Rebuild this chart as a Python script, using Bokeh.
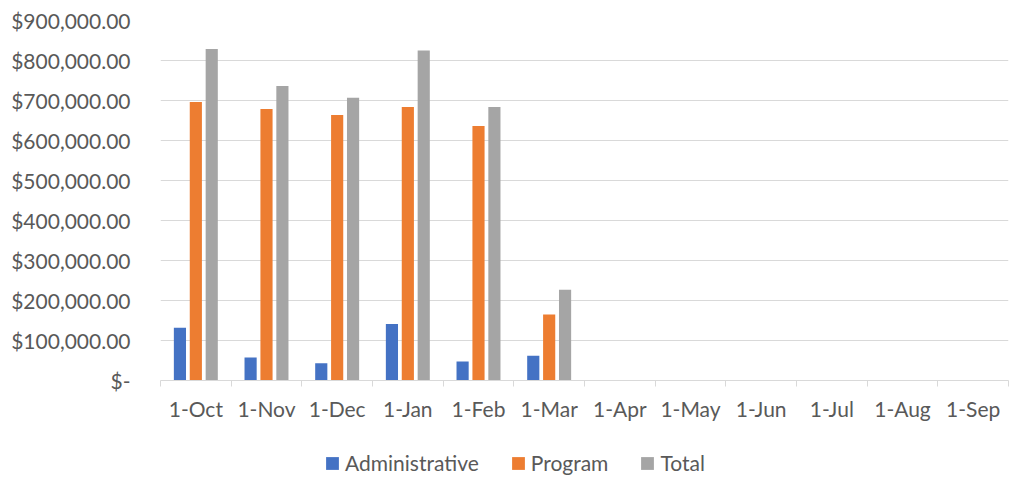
import numpy as np
from bokeh.plotting import figure
from bokeh.layouts import column
from bokeh.models import ColumnDataSource, FixedTicker, Range1d, Legend, LegendItem
from bokeh.embed import file_html
from bokeh.resources import INLINE

months = ["1-Oct", "1-Nov", "1-Dec", "1-Jan", "1-Feb", "1-Mar",
          "1-Apr", "1-May", "1-Jun", "1-Jul", "1-Aug", "1-Sep"]
administrative = [132000, 57500, 43000, 141000, 47500, 62000,
                  None, None, None, None, None, None]
program = [696500, 679000, 664000, 684000, 636000, 165000,
           None, None, None, None, None, None]
total = [828500, 736500, 707000, 825000, 683500, 227000,
         None, None, None, None, None, None]
series_names = ["Administrative", "Program", "Total"]
series_colors = ["#4472C4", "#ED7D31", "#A5A5A5"]
y_ticks = [0, 100000, 200000, 300000, 400000, 500000, 600000, 700000, 800000, 900000]
y_tick_labels = ["$-", "$100,000.00", "$200,000.00", "$300,000.00", "$400,000.00",
                 "$500,000.00", "$600,000.00", "$700,000.00", "$800,000.00", "$900,000.00"]

FONT = "Lato"
FS = "21px"
TXT = "#595959"
GRID = "#D9D9D9"

n = len(months)
centers = np.arange(n) + 0.5
offsets = [-0.225, 0.0, 0.225]
bar_w = 0.172

W = 1012
p = figure(width=W, height=430, output_backend="svg", toolbar_location=None,
           x_range=Range1d(0, n), y_range=Range1d(0, 900000),
           min_border_left=160, min_border_right=4, min_border_top=20, min_border_bottom=50)
p.outline_line_color = None
p.background_fill_color = "white"
p.border_fill_color = "white"

for vals, off, col in zip([administrative, program, total], offsets, series_colors):
    arr = np.array([np.nan if v is None else v for v in vals], dtype=float)
    src = ColumnDataSource(dict(x=centers + off, top=arr))
    p.vbar(x="x", top="top", bottom=0, width=bar_w, source=src,
           fill_color=col, line_color=None)

# x axis
p.xaxis.ticker = FixedTicker(ticks=list(centers), minor_ticks=list(range(n + 1)))
p.xaxis.major_label_overrides = {float(c): m for c, m in zip(centers, months)}
p.xaxis.major_tick_line_color = None
p.xaxis.major_tick_out = 0
p.xaxis.major_tick_in = 0
p.xaxis.minor_tick_line_color = GRID
p.xaxis.minor_tick_out = 6
p.xaxis.minor_tick_in = 0
p.xaxis.axis_line_color = GRID
p.xaxis.major_label_standoff = 9
p.xaxis.major_label_text_font = FONT
p.xaxis.major_label_text_font_size = FS
p.xaxis.major_label_text_color = TXT
p.xgrid.grid_line_color = None

# y axis
p.yaxis.ticker = FixedTicker(ticks=y_ticks)
p.yaxis.major_label_overrides = {t: l for t, l in zip(y_ticks, y_tick_labels)}
p.yaxis.axis_line_color = None
p.yaxis.major_tick_line_color = None
p.yaxis.major_tick_out = 0
p.yaxis.major_tick_in = 0
p.yaxis.minor_tick_line_color = None
p.yaxis.major_label_standoff = 30
p.yaxis.major_label_text_font = FONT
p.yaxis.major_label_text_font_size = FS
p.yaxis.major_label_text_color = TXT
p.ygrid.ticker = FixedTicker(ticks=y_ticks)
p.ygrid.grid_line_color = GRID
p.ygrid.grid_line_width = 1

# legend strip below the chart
LH = 48
lg = figure(width=W, height=LH, output_backend="svg", toolbar_location=None,
            x_range=Range1d(0, W), y_range=Range1d(0, LH),
            min_border=0, min_border_left=0, min_border_right=0,
            min_border_top=0, min_border_bottom=0)
lg.axis.visible = False
lg.grid.visible = False
lg.outline_line_color = None
lg.background_fill_color = "white"
lg.border_fill_color = "white"
keys = []
for nm, col in zip(series_names, series_colors):
    r = lg.vbar(x=[np.nan], top=[np.nan], width=1, fill_color=col, line_color=None)
    keys.append(LegendItem(label=nm, renderers=[r]))
legend = Legend(items=keys, orientation="horizontal", location=(164, 3),
                glyph_width=16, glyph_height=16, label_height=16,
                label_standoff=5, spacing=31, padding=0, margin=0,
                border_line_color=None, background_fill_alpha=0,
                label_text_font=FONT, label_text_font_size=FS, label_text_color=TXT)
lg.add_layout(legend, "center")

layout = column(p, lg, spacing=0)
open("out.html", "w").write(file_html(layout, INLINE))
